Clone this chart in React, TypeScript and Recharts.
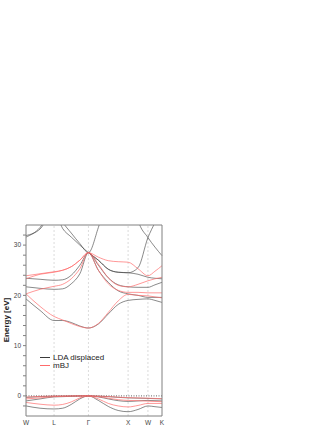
import { LineChart, Line, XAxis, YAxis, ReferenceLine } from "recharts";

// k-path W-L-Γ-X-W-K (units of 2π/a)
const kPath = [0, 0.354, 0.707, 0.924, 1.14, 1.357, 1.573, 1.823, 2.073, 2.323, 2.573, 2.823, 3.073, 3.25, 3.427];
const symK = [0, 0.707, 1.573, 2.573, 3.073, 3.427];
const symLabels = ["W", "L", "Γ", "X", "W", "K"];
const minorK = [0.118, 0.236, 0.353, 0.471, 0.589, 0.707, 0.825, 0.942, 1.06, 1.178, 1.296, 1.414, 1.573, 1.649, 1.767, 1.885, 2.003, 2.12, 2.238, 2.356, 2.474, 2.573, 2.709, 2.827, 2.945, 3.073, 3.181, 3.299];
const energyTicks = [-2, 0, 2, 4, 6, 8, 10, 12, 14, 16, 18, 20, 22, 24, 26, 28, 30, 32];

// LDA displaced (black)
const lda1 = [19.3, 17.0, 15.0, 15.0, 14.6, 13.9, 13.5, 14.3, 16.3, 18.2, 19.0, 19.2, 19.3, 19.0, 18.6];
const lda2 = [21.7, 21.4, 21.2, 21.3, 22.3, 24.3, 28.5, 25.0, 22.6, 20.9, 20.3, 20.0, 19.6, 19.6, 19.6];
const lda3 = [23.4, 23.2, 23.0, 23.1, 24.0, 26.0, 28.5, 26.0, 23.5, 22.1, 21.7, 21.6, 21.6, 22.1, 22.6];
const lda4 = [31.9, 33.2, 37.0, 33.3, 31.6, 30.0, 28.5, 27.0, 25.2, 24.6, 24.5, 25.5, 31.5, 34.5, 37.5];
const lda5 = [31.6, 33.5, 38.0, 34.6, 32.4, 30.3, 28.5, 33.5, 40.0, 44.0, 45.0, 35.0, 31.5, 29.6, 27.9];
const lda6 = [null, null, null, null, null, null, 28.5, 27.0, 25.2, 24.6, 24.5, 24.2, 23.6, 23.4, 23.3];
const ldaV1 = [-0.3, -0.15, -0.05, -0.03, -0.01, 0, 0, -0.05, -0.15, -0.3, -0.4, -0.45, -0.5, -0.55, -0.6];
const ldaV2 = [-1.0, -0.6, -0.2, -0.15, -0.08, -0.02, 0, -0.2, -0.6, -0.95, -1.1, -1.0, -0.9, -0.95, -1.0];
const ldaV3 = [-2.0, -2.45, -2.6, -2.45, -1.7, -0.6, 0, -0.9, -2.1, -2.9, -3.15, -2.7, -2.0, -2.15, -2.3];

// mBJ (red)
const mbj1 = [20.3, 17.8, 15.8, 15.1, 14.4, 13.8, 13.5, 14.4, 16.6, 18.9, 20.2, 20.0, 19.9, 19.7, 19.5];
const mbj2 = [20.3, 21.2, 21.8, 22.2, 23.3, 25.3, 28.5, 25.0, 22.3, 21.0, 20.6, 20.6, 20.5, 20.5, 20.5];
const mbj3 = [23.9, 24.3, 24.7, 25.0, 25.7, 27.0, 28.5, 26.2, 23.5, 22.0, 21.7, 22.2, 22.9, 23.3, 23.6];
const mbj4 = [23.3, 24.2, 24.6, 25.0, 25.7, 27.0, 28.5, 27.6, 26.9, 26.7, 26.6, 25.3, 23.9, 24.8, 25.9];
const mbjV1 = [-0.25, -0.1, -0.03, -0.02, 0, 0, 0, -0.04, -0.12, -0.25, -0.35, -0.4, -0.45, -0.5, -0.55];
const mbjV2 = [-0.6, -0.4, -0.15, -0.1, -0.05, -0.01, 0, -0.15, -0.45, -0.75, -0.9, -0.95, -1.05, -1.1, -1.15];
const mbjV3 = [-1.3, -1.65, -1.85, -1.7, -1.2, -0.4, 0, -0.6, -1.5, -2.0, -2.2, -1.9, -1.5, -1.5, -1.5];

const ldaBands = [lda1, lda2, lda3, lda4, lda5, lda6, ldaV1, ldaV2, ldaV3];
const mbjBands = [mbj1, mbj2, mbj3, mbj4, mbjV1, mbjV2, mbjV3];

const seriesNames = ["LDA displaced", "mBJ"];
const seriesColors = ["#3a3a3a", "#ff6b6b"];

const data = kPath.map((k, i) => {
  const row: Record<string, number | null> = { k };
  ldaBands.forEach((b, j) => (row[`lda${j}`] = b[i]));
  mbjBands.forEach((b, j) => (row[`mbj${j}`] = b[i]));
  return row;
});

const font = "'Liberation Sans', Arial, sans-serif";
const axisColor = "#808080";

export default function App() {
  return (
    <div style={{ position: "absolute", left: 0, top: 0, width: 332, height: 430, fontFamily: font }}>
      <LineChart width={332} height={430} data={data} margin={{ top: 225, right: 160, bottom: 0, left: 0 }}>
        <XAxis
          dataKey="k"
          type="number"
          domain={[0, 3.427]}
          ticks={symK}
          tickFormatter={(v: number) => symLabels[symK.indexOf(v)] ?? ""}
          tickLine={false}
          tickSize={2}
          tickMargin={2}
          height={14}
          stroke={axisColor}
          tick={{ fontSize: 6.5, fill: "#444", fontFamily: font }}
        />
        <XAxis xAxisId="bm" type="number" domain={[0, 3.427]} ticks={minorK} orientation="bottom" mirror tick={false} tickSize={3} axisLine={false} height={1} stroke={axisColor} />
        <XAxis xAxisId="t" type="number" domain={[0, 3.427]} ticks={minorK} orientation="top" mirror tick={false} tickSize={3} height={1} stroke={axisColor} />
        <YAxis
          type="number"
          domain={[-4, 34]}
          allowDataOverflow
          ticks={energyTicks}
          tickFormatter={(v: number) => (v % 10 === 0 ? String(v) : "")}
          width={26}
          tickSize={3}
          tickMargin={2}
          stroke={axisColor}
          tick={{ fontSize: 6.5, fill: "#444", fontFamily: font }}
          label={() => (
            <text transform="translate(8.5,320) rotate(-90)" textAnchor="middle" fontSize={8} fontWeight="bold" fill="#222" fontFamily={font}>
              Energy [eV]
            </text>
          )}
        />
        <YAxis yAxisId="r" orientation="right" type="number" domain={[-4, 34]} allowDataOverflow ticks={energyTicks} tick={false} tickSize={3} width={10} stroke={axisColor} />
        {symK.slice(1, 5).map((k, i) => (
          <ReferenceLine key={`v${i}`} x={k} stroke="#cccccc" strokeWidth={0.7} strokeDasharray="2 2" />
        ))}
        <ReferenceLine y={0} stroke="#222" strokeWidth={0.7} strokeDasharray="1 1.5" />
        {ldaBands.map((_, i) => (
          <Line key={`lda${i}`} dataKey={`lda${i}`} type="monotone" stroke={seriesColors[0]} strokeWidth={0.6} dot={false} isAnimationActive={false} />
        ))}
        {mbjBands.map((_, i) => (
          <Line key={`mbj${i}`} dataKey={`mbj${i}`} type="monotone" stroke={seriesColors[1]} strokeWidth={0.7} dot={false} isAnimationActive={false} />
        ))}
      </LineChart>
      <div style={{ position: "absolute", left: 40, top: 354, fontSize: 8, color: "#222", lineHeight: "7.7px" }}>
        {seriesNames.map((name, i) => (
          <div key={name} style={{ display: "flex", alignItems: "center", height: 7.7 }}>
            <span style={{ display: "inline-block", width: 10, height: 0, borderTop: `1px solid ${seriesColors[i]}`, marginRight: 3 }} />
            <span>{name}</span>
          </div>
        ))}
      </div>
    </div>
  );
}
